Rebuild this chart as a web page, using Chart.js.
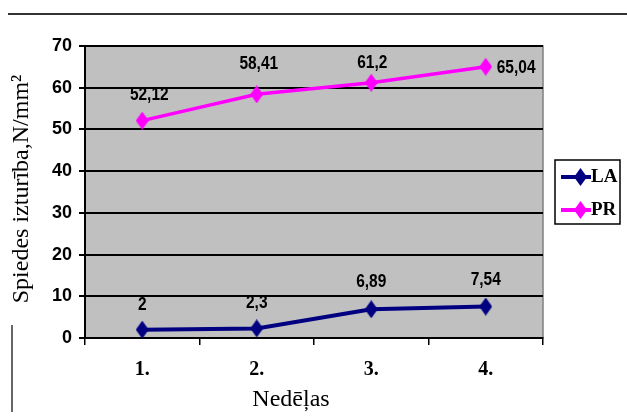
<!DOCTYPE html>
<html><head><meta charset="utf-8">
<script src="https://cdn.jsdelivr.net/npm/chart.js@4/dist/chart.umd.min.js"></script>
<style>html,body{margin:0;padding:0;background:#fff}#wrap{width:627px;height:416px}</style>
</head><body><div id="wrap"><canvas id="c" width="627" height="416"></canvas></div>
<script>
const categories = ['1.', '2.', '3.', '4.'];
const laValues = [2, 2.3, 6.89, 7.54];
const prValues = [52.12, 58.41, 61.2, 65.04];
const seriesNames = ['LA', 'PR'];
const yTitle = 'Spiedes izturība,N/mm²';
const xTitle = 'Nedēļas';

function diamond(color, w, h) {
  const c = document.createElement('canvas');
  c.width = w; c.height = h;
  const g = c.getContext('2d');
  g.fillStyle = color;
  g.beginPath();
  g.moveTo(w / 2, 0); g.lineTo(w, h / 2); g.lineTo(w / 2, h); g.lineTo(0, h / 2);
  g.closePath(); g.fill();
  return c;
}
const colors = ['#000080', '#FF00FF'];
const markers = colors.map(c => diamond(c, 13, 18));

const serif = "'Liberation Serif','Times New Roman',serif";
const narrow = "'Liberation Sans Narrow','Arial Narrow','Liberation Sans',sans-serif";

const decor = {
  id: 'decor',
  beforeDraw(chart) {
    const { ctx, chartArea: a } = chart;
    ctx.save();
    ctx.fillStyle = '#fff';
    ctx.fillRect(0, 0, chart.width, chart.height);
    ctx.fillStyle = '#C0C0C0';
    ctx.fillRect(a.left, a.top, a.right - a.left, a.bottom - a.top);
    ctx.strokeStyle = '#808080';
    ctx.lineWidth = 1.5;
    ctx.strokeRect(a.left, a.top, a.right - a.left, a.bottom - a.top);
    ctx.strokeStyle = '#333';
    ctx.lineWidth = 2;
    ctx.beginPath(); ctx.moveTo(8, 14); ctx.lineTo(chart.width, 14); ctx.stroke();
    ctx.lineWidth = 1.5;
    ctx.beginPath(); ctx.moveTo(12, 325); ctx.lineTo(12, 412); ctx.stroke();
    ctx.restore();
  },
  afterDatasetsDraw(chart) {
    const { ctx } = chart;
    ctx.save();
    ctx.fillStyle = '#000';
    ctx.font = "bold 18px " + narrow;
    const sx = 0.86;
    chart.data.datasets.forEach((ds, i) => {
      const meta = chart.getDatasetMeta(i);
      meta.data.forEach((pt, j) => {
        const txt = String(ds.data[j]).replace('.', ',');
        const place = (ds.labelPlace || [])[j] || 'above';
        ctx.save();
        if (place === 'right') {
          ctx.translate(pt.x + 11, pt.y + 1);
          ctx.scale(sx, 1);
          ctx.textAlign = 'left'; ctx.textBaseline = 'middle';
          ctx.fillText(txt, 0, 0);
        } else {
          ctx.translate(pt.x + (ds.labelDx ? ds.labelDx[j] : 0), pt.y - (ds.labelGap ? ds.labelGap[j] : 16));
          ctx.scale(sx, 1);
          ctx.textAlign = 'center'; ctx.textBaseline = 'bottom';
          ctx.fillText(txt, 0, 0);
        }
        ctx.restore();
      });
    });
    ctx.font = "24px " + serif;
    ctx.textAlign = 'center'; ctx.textBaseline = 'middle';
    ctx.fillText(xTitle, 291, 400);
    ctx.save();
    ctx.translate(22, 189);
    ctx.rotate(-Math.PI / 2);
    ctx.fillText(yTitle, 0, 0);
    ctx.restore();
    const lx = 555, ly = 160, lw = 65, lh = 64;
    ctx.fillStyle = '#fff';
    ctx.fillRect(lx, ly, lw, lh);
    ctx.strokeStyle = '#000'; ctx.lineWidth = 1.5;
    ctx.strokeRect(lx, ly, lw, lh);
    chart.data.datasets.forEach((ds, i) => {
      const y = ly + 17 + i * 33;
      ctx.strokeStyle = ds.borderColor; ctx.lineWidth = 4;
      ctx.beginPath(); ctx.moveTo(lx + 6, y); ctx.lineTo(lx + 36, y); ctx.stroke();
      ctx.drawImage(markers[i], lx + 25 - 6, y - 9);
      ctx.fillStyle = '#000';
      ctx.font = "bold 19px " + serif;
      ctx.textAlign = 'left'; ctx.textBaseline = 'middle';
      ctx.fillText(ds.label, lx + 36, y);
    });
    ctx.restore();
  }
};

new Chart(document.getElementById('c'), {
  type: 'line',
  data: {
    labels: categories,
    datasets: [
      { label: seriesNames[0], data: laValues, borderColor: colors[0], backgroundColor: colors[0],
        borderWidth: 4, pointStyle: markers[0], pointRadius: 7, tension: 0,
        labelGap: [16, 16, 18, 18], labelDx: [0, 0, 0, 0] },
      { label: seriesNames[1], data: prValues, borderColor: colors[1], backgroundColor: colors[1],
        borderWidth: 3.5, pointStyle: markers[1], pointRadius: 7, tension: 0,
        labelPlace: ['above', 'above', 'above', 'right'], labelGap: [17, 21, 11, 0], labelDx: [7, 2, 1, 0] }
    ]
  },
  options: {
    responsive: false,
    animation: false,
    layout: { padding: { left: 0, top: 46, right: 84, bottom: 0 } },
    plugins: { legend: { display: false }, tooltip: { enabled: false } },
    scales: {
      x: {
        offset: true,
        afterFit(s) { s.height = 78; },
        grid: { display: true, offset: true, drawOnChartArea: false, drawTicks: true, tickLength: 7, color: '#000', lineWidth: 1.5 },
        border: { display: true, color: '#000', width: 2 },
        ticks: { color: '#000', font: { family: serif, size: 20, weight: 'bold' }, padding: 13 }
      },
      y: {
        min: 0, max: 70,
        afterFit(s) { s.width = 85; },
        grid: { color: '#000', lineWidth: 2, tickLength: 6, drawTicks: true },
        border: { display: true, color: '#000', width: 2 },
        ticks: { stepSize: 10, color: '#000', font: { family: narrow, size: 18, weight: 'bold' }, padding: 7 }
      }
    }
  },
  plugins: [decor]
});
</script></body></html>
